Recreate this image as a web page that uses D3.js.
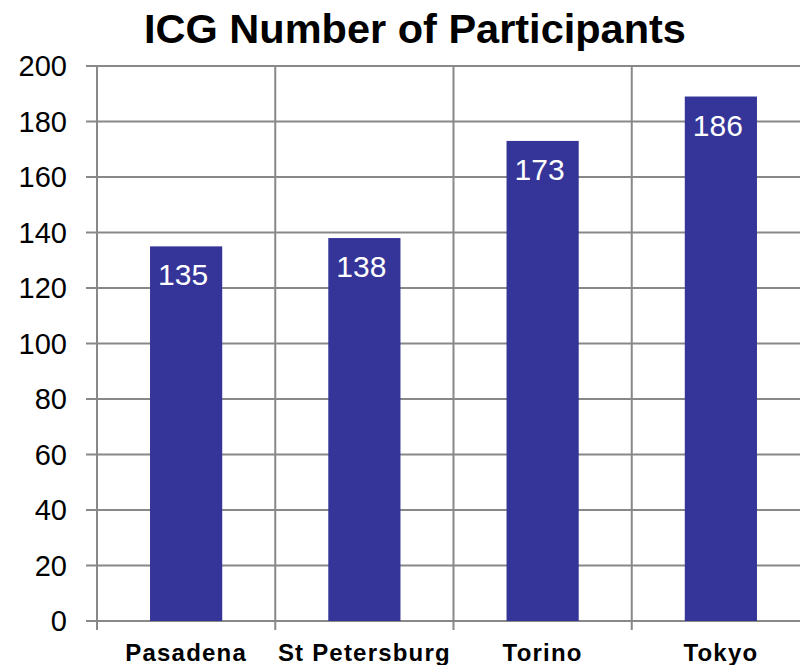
<!DOCTYPE html>
<html>
<head>
<meta charset="utf-8">
<script src="https://cdn.jsdelivr.net/npm/d3@7"></script>
<style>
  body { margin: 0; background: #fff; }
  text { font-family: "Liberation Sans", Arial, sans-serif; }
</style>
</head>
<body>
<div id="chart"></div>
<script>
var svgWidth = 800;
var svgHeight = 665;

// data
var cities = ["Pasadena", "St Petersburg", "Torino", "Tokyo"];
var participants = [135, 138, 173, 189];   // bar heights
var valueLabels = ["135", "138", "173", "186"]; // labels as printed
var yTicks = [0, 20, 40, 60, 80, 100, 120, 140, 160, 180, 200];

var margin = { top: 66, right: -10, bottom: 44, left: 97 };
var width = svgWidth - margin.left - margin.right;
var height = svgHeight - margin.top - margin.bottom;

var svg = d3.select("#chart")
  .append("svg")
  .attr("width", svgWidth)
  .attr("height", svgHeight);

svg.append("text")
  .attr("x", 415)
  .attr("y", 43)
  .attr("text-anchor", "middle")
  .attr("font-size", "41.5px")
  .attr("font-weight", "bold")
  .text("ICG Number of Participants");

var chartGroup = svg.append("g")
  .attr("transform", `translate(${margin.left}, ${margin.top})`);

var xScale = d3.scaleBand()
  .domain(cities)
  .range([0, width])
  .paddingInner(0)
  .paddingOuter(0);

var yScale = d3.scaleLinear()
  .domain([0, 200])
  .range([height, 0]);

var gridColor = "#888";
var plotRight = 800 - margin.left;

// horizontal gridlines with tick stubs on the left
chartGroup.selectAll(".hgrid")
  .data(yTicks)
  .enter()
  .append("line")
  .attr("x1", -11)
  .attr("x2", plotRight)
  .attr("y1", d => yScale(d))
  .attr("y2", d => yScale(d))
  .attr("stroke", gridColor)
  .attr("stroke-width", 2);

// vertical lines at category boundaries
var boundaries = cities.map(c => xScale(c));
chartGroup.selectAll(".vgrid")
  .data(boundaries)
  .enter()
  .append("line")
  .attr("x1", d => d)
  .attr("x2", d => d)
  .attr("y1", 0)
  .attr("y2", height + 9)
  .attr("stroke", gridColor)
  .attr("stroke-width", 2);

// y tick labels
chartGroup.selectAll(".ylab")
  .data(yTicks)
  .enter()
  .append("text")
  .attr("x", -30)
  .attr("y", d => yScale(d))
  .attr("dy", "0.36em")
  .attr("text-anchor", "end")
  .attr("font-size", "29px")
  .attr("fill", "#000")
  .text(d => d);

var barWidth = xScale.bandwidth() * 0.405;

chartGroup.selectAll(".bar")
  .data(participants)
  .enter()
  .append("rect")
  .attr("x", (d, i) => xScale(cities[i]) + (xScale.bandwidth() - barWidth) / 2)
  .attr("y", d => yScale(d))
  .attr("width", barWidth)
  .attr("height", d => height - yScale(d))
  .attr("fill", "#353599");

chartGroup.selectAll(".vlab")
  .data(participants)
  .enter()
  .append("text")
  .attr("x", (d, i) => xScale(cities[i]) + xScale.bandwidth() / 2 - 3)
  .attr("y", d => yScale(d) + 39)
  .attr("text-anchor", "middle")
  .attr("font-size", "30px")
  .attr("fill", "#fff")
  .text((d, i) => valueLabels[i]);

// category labels
chartGroup.selectAll(".xlab")
  .data(cities)
  .enter()
  .append("text")
  .attr("x", d => xScale(d) + xScale.bandwidth() / 2)
  .attr("y", height + 40)
  .attr("text-anchor", "middle")
  .attr("font-size", "24px")
  .attr("font-weight", "bold")
  .attr("letter-spacing", "1.2px")
  .text(d => d);
</script>
</body>
</html>
